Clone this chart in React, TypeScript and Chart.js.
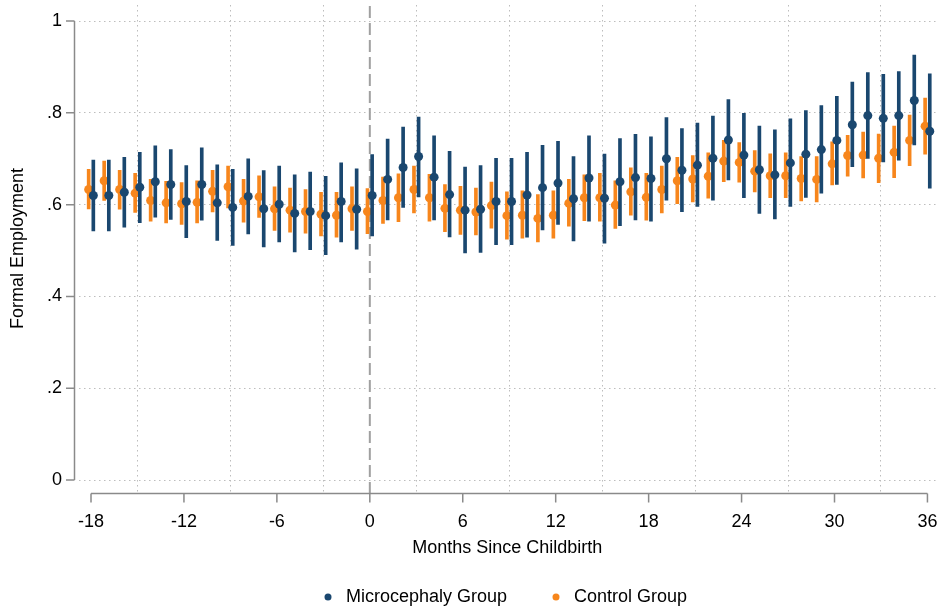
import React, { useEffect, useRef } from 'react';
import { Chart, registerables } from 'chart.js';

Chart.register(...registerables);

const months = [
  -18, -17, -16, -15, -14, -13, -12, -11, -10, -9, -8, -7, -6, -5, -4, -3, -2, -1,
  0, 1, 2, 3, 4, 5, 6, 7, 8, 9, 10, 11, 12, 13, 14, 15, 16, 17, 18,
  19, 20, 21, 22, 23, 24, 25, 26, 27, 28, 29, 30, 31, 32, 33, 34, 35, 36,
];

const microMean = [
  0.620, 0.620, 0.627, 0.638, 0.650, 0.644, 0.607, 0.644, 0.604, 0.594, 0.618, 0.591, 0.601, 0.581, 0.585, 0.576, 0.607, 0.590,
  0.620, 0.655, 0.681, 0.705, 0.660, 0.622, 0.588, 0.590, 0.607, 0.607, 0.621, 0.637, 0.647, 0.613, 0.658, 0.614, 0.650, 0.659, 0.657,
  0.700, 0.675, 0.686, 0.701, 0.741, 0.708, 0.676, 0.665, 0.691, 0.710, 0.720, 0.740, 0.774, 0.794, 0.788, 0.794, 0.827, 0.760,
];
const microLow = [
  0.543, 0.543, 0.551, 0.561, 0.573, 0.568, 0.528, 0.566, 0.522, 0.511, 0.536, 0.508, 0.519, 0.497, 0.502, 0.491, 0.519, 0.503,
  0.532, 0.567, 0.594, 0.617, 0.567, 0.530, 0.495, 0.496, 0.513, 0.513, 0.529, 0.545, 0.557, 0.521, 0.564, 0.516, 0.554, 0.567, 0.564,
  0.610, 0.585, 0.596, 0.610, 0.654, 0.615, 0.581, 0.569, 0.596, 0.616, 0.625, 0.644, 0.683, 0.701, 0.693, 0.697, 0.730, 0.636,
];
const microHigh = [
  0.697, 0.697, 0.703, 0.714, 0.728, 0.720, 0.685, 0.724, 0.687, 0.677, 0.700, 0.674, 0.684, 0.665, 0.671, 0.662, 0.691, 0.678,
  0.709, 0.743, 0.769, 0.791, 0.750, 0.716, 0.682, 0.685, 0.701, 0.701, 0.714, 0.729, 0.738, 0.705, 0.750, 0.710, 0.744, 0.753, 0.748,
  0.790, 0.766, 0.778, 0.793, 0.829, 0.799, 0.771, 0.763, 0.787, 0.805, 0.816, 0.836, 0.867, 0.888, 0.884, 0.890, 0.926, 0.885,
];

const controlMean = [
  0.633, 0.652, 0.633, 0.625, 0.609, 0.604, 0.602, 0.605, 0.629, 0.639, 0.608, 0.617, 0.591, 0.588, 0.585, 0.579, 0.577, 0.591,
  0.585, 0.609, 0.615, 0.633, 0.615, 0.592, 0.588, 0.584, 0.598, 0.576, 0.577, 0.570, 0.577, 0.603, 0.615, 0.615, 0.599, 0.628, 0.616,
  0.633, 0.652, 0.656, 0.662, 0.695, 0.692, 0.673, 0.663, 0.663, 0.657, 0.655, 0.689, 0.707, 0.708, 0.701, 0.714, 0.740, 0.771,
];
const controlLow = [
  0.591, 0.609, 0.590, 0.583, 0.564, 0.560, 0.557, 0.560, 0.584, 0.593, 0.562, 0.572, 0.544, 0.540, 0.538, 0.532, 0.529, 0.544,
  0.537, 0.559, 0.563, 0.582, 0.564, 0.541, 0.535, 0.534, 0.549, 0.525, 0.527, 0.519, 0.527, 0.553, 0.565, 0.564, 0.548, 0.577, 0.566,
  0.582, 0.602, 0.606, 0.614, 0.650, 0.649, 0.628, 0.615, 0.615, 0.608, 0.606, 0.643, 0.662, 0.658, 0.648, 0.659, 0.685, 0.710,
];
const controlHigh = [
  0.677, 0.695, 0.675, 0.668, 0.655, 0.651, 0.648, 0.652, 0.675, 0.684, 0.655, 0.663, 0.639, 0.636, 0.633, 0.627, 0.627, 0.639,
  0.635, 0.660, 0.667, 0.684, 0.666, 0.644, 0.640, 0.636, 0.649, 0.628, 0.630, 0.622, 0.630, 0.655, 0.665, 0.668, 0.652, 0.680, 0.668,
  0.684, 0.703, 0.707, 0.713, 0.740, 0.735, 0.718, 0.711, 0.713, 0.705, 0.705, 0.737, 0.751, 0.758, 0.754, 0.771, 0.795, 0.832,
];

const xTickValues = [-18, -12, -6, 0, 6, 12, 18, 24, 30, 36];
const xTickLabels = ['-18', '-12', '-6', '0', '6', '12', '18', '24', '30', '36'];
const yTickValues = [0, 0.2, 0.4, 0.6, 0.8, 1];
const yTickLabels = ['0', '.2', '.4', '.6', '.8', '1'];

const seriesNames = ['Microcephaly Group', 'Control Group'];
const xTitle = 'Months Since Childbirth';
const yTitle = 'Formal Employment';
const eventMonth = 0;

const NAVY = '#1a476f';
const ORANGE = '#f7861c';
const FONT = "'Liberation Sans', Arial, Helvetica, sans-serif";
const OFFSET = 0.15;

const decorPlugin = {
  id: 'stataDecor',
  beforeDatasetsDraw(chart: any) {
    const { ctx, chartArea, scales } = chart;
    const x = scales.x;
    const px = x.getPixelForValue(eventMonth);
    ctx.save();
    ctx.strokeStyle = '#a0a0a0';
    ctx.lineWidth = 2;
    ctx.setLineDash([12, 5]);
    ctx.beginPath();
    ctx.moveTo(px, chartArea.top + 1);
    ctx.lineTo(px, chartArea.bottom + 1.5);
    ctx.stroke();
    ctx.restore();
  },
  afterDraw(chart: any) {
    const { ctx, chartArea, scales } = chart;
    const x = scales.x;
    const y = scales.y;
    ctx.save();
    ctx.strokeStyle = '#8a8a8a';
    ctx.lineWidth = 1.5;
    ctx.setLineDash([]);
    // y axis
    const ax = chartArea.left - 4.5;
    const yTop = y.getPixelForValue(yTickValues[yTickValues.length - 1]);
    const yBot = y.getPixelForValue(yTickValues[0]);
    ctx.beginPath();
    ctx.moveTo(ax, yTop);
    ctx.lineTo(ax, yBot);
    yTickValues.forEach((v) => {
      const py = y.getPixelForValue(v);
      ctx.moveTo(ax, py);
      ctx.lineTo(ax - 8.5, py);
    });
    ctx.stroke();
    // x axis
    const ay = chartArea.bottom + 1.5;
    const xL = x.getPixelForValue(xTickValues[0]);
    const xR = x.getPixelForValue(xTickValues[xTickValues.length - 1]);
    ctx.beginPath();
    ctx.moveTo(xL, ay);
    ctx.lineTo(xR, ay);
    xTickValues.forEach((v) => {
      const px = x.getPixelForValue(v);
      ctx.moveTo(px, ay);
      ctx.lineTo(px, ay + 9);
    });
    ctx.stroke();

    // legend
    const ly = 597;
    const items = [
      { label: seriesNames[0], color: NAVY, cx: 328 },
      { label: seriesNames[1], color: ORANGE, cx: 556 },
    ];
    ctx.font = `18px ${FONT}`;
    ctx.textBaseline = 'middle';
    ctx.textAlign = 'left';
    items.forEach((it) => {
      ctx.fillStyle = it.color;
      ctx.beginPath();
      ctx.arc(it.cx, ly, 3.5, 0, Math.PI * 2);
      ctx.fill();
      ctx.fillStyle = '#000';
      ctx.fillText(it.label, it.cx + 18, ly);
    });
    ctx.restore();
  },
};

const zeroPadding = (s: any) => {
  s.paddingTop = 0;
  s.paddingBottom = 0;
  s.paddingLeft = 0;
  s.paddingRight = 0;
};

export default function App() {
  const ref = useRef<HTMLCanvasElement | null>(null);

  useEffect(() => {
    if (!ref.current) return;
    const barData = (lo: number[], hi: number[], off: number) =>
      months.map((m, i) => ({ x: m + off, y: [lo[i], hi[i]] }));
    const ptData = (mean: number[], off: number) =>
      months.map((m, i) => ({ x: m + off, y: mean[i] }));

    const chart = new Chart(ref.current, {
      type: 'scatter',
      data: {
        datasets: [
          {
            type: 'scatter',
            label: seriesNames[0],
            data: ptData(microMean, OFFSET),
            backgroundColor: NAVY,
            borderWidth: 0,
            pointRadius: 4.5,
            pointHoverRadius: 4.5,
            order: 0,
          },
          {
            type: 'bar',
            label: seriesNames[0] + ' CI',
            data: barData(microLow, microHigh, OFFSET) as any,
            backgroundColor: NAVY,
            borderWidth: 0,
            barThickness: 3,
            grouped: false,
            order: 1,
          },
          {
            type: 'scatter',
            label: seriesNames[1],
            data: ptData(controlMean, -OFFSET),
            backgroundColor: ORANGE,
            borderWidth: 0,
            pointRadius: 4.5,
            pointHoverRadius: 4.5,
            order: 2,
          },
          {
            type: 'bar',
            label: seriesNames[1] + ' CI',
            data: barData(controlLow, controlHigh, -OFFSET) as any,
            backgroundColor: ORANGE,
            borderWidth: 0,
            barThickness: 3,
            grouped: false,
            order: 3,
          },
        ] as any,
      },
      options: {
        animation: false,
        responsive: true,
        maintainAspectRatio: false,
        devicePixelRatio: 1,
        layout: { padding: { top: 5, left: 0, right: 0, bottom: 52 } },
        plugins: {
          legend: { display: false },
          tooltip: { enabled: false },
        },
        scales: {
          x: {
            type: 'linear',
            min: -18.775,
            max: 36.52,
            offset: false,
            afterBuildTicks: (s: any) => {
              s.ticks = xTickValues.map((v) => ({ value: v }));
            },
            afterFit: (s: any) => {
              s.height = 67;
              zeroPadding(s);
            },
            ticks: {
              autoSkip: false,
              maxRotation: 0,
              padding: 19,
              color: '#000',
              font: { family: FONT, size: 18 },
              callback: (_v: any, i: number) => xTickLabels[i],
            },
            grid: {
              drawTicks: false,
              color: '#bdbdbd',
              lineWidth: 1,
            },
            border: { display: false, dash: [1.5, 3.5] },
            title: {
              display: true,
              text: xTitle,
              color: '#000',
              font: { family: FONT, size: 18 },
              padding: { top: 0, bottom: 0 },
            },
          },
          y: {
            type: 'linear',
            min: -0.026,
            max: 1.035,
            afterBuildTicks: (s: any) => {
              s.ticks = yTickValues.map((v) => ({ value: v }));
            },
            afterFit: (s: any) => {
              s.width = 79;
              zeroPadding(s);
            },
            ticks: {
              padding: 17,
              color: '#000',
              font: { family: FONT, size: 18 },
              callback: (_v: any, i: number) => yTickLabels[i],
            },
            grid: {
              drawTicks: false,
              color: '#bdbdbd',
              lineWidth: 1,
            },
            border: { display: false, dash: [1.5, 3.5] },
            title: {
              display: true,
              text: yTitle,
              color: '#000',
              font: { family: FONT, size: 18 },
              padding: { top: 7, bottom: 0 },
            },
          },
        },
      } as any,
      plugins: [decorPlugin],
    });
    return () => chart.destroy();
  }, []);

  return (
    <div style={{ position: 'fixed', left: 0, top: 0, width: 940, height: 611, background: '#fff' }}>
      <canvas ref={ref} />
    </div>
  );
}
